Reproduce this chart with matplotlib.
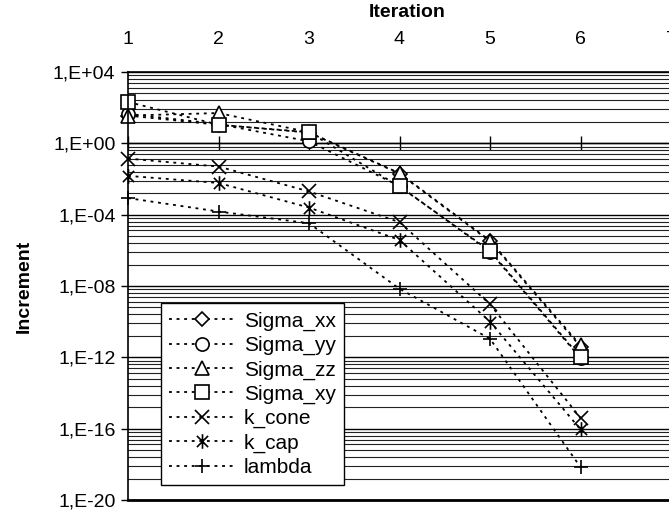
import numpy as np
import matplotlib
matplotlib.use("Agg")
import matplotlib.pyplot as plt
from matplotlib.path import Path
from matplotlib.ticker import FixedLocator, FuncFormatter, NullFormatter

plt.rcParams['font.family'] = ['Liberation Sans', 'DejaVu Sans']

# data (increment per iteration)
iteration = [1, 2, 3, 4, 5, 6]
sigma_xx = [3.6e1, 1.1e1, 4.0e0, 2.0e-2, 3.2e-6, 4.0e-12]
sigma_yy = [4.5e1, 1.2e1, 1.3e0, 4.0e-3, 8.5e-7, 9.0e-13]
sigma_zz = [3.6e1, 5.0e1, 4.2e0, 2.1e-2, 3.5e-6, 4.7e-12]
sigma_xy = [2.1e2, 1.1e1, 4.2e0, 3.8e-3, 9.3e-7, 1.0e-12]
k_cone = [1.4e-1, 5.0e-2, 2.0e-3, 3.8e-5, 9.5e-10, 4.0e-16]
k_cap = [1.5e-2, 6.0e-3, 2.5e-4, 3.8e-6, 1.0e-10, 9.0e-17]
lam = [8.5e-4, 1.5e-4, 3.3e-5, 7.0e-9, 1.1e-11, 7.0e-19]

labels = ['Sigma_xx', 'Sigma_yy', 'Sigma_zz', 'Sigma_xy', 'k_cone', 'k_cap', 'lambda']
series = [sigma_xx, sigma_yy, sigma_zz, sigma_xy, k_cone, k_cap, lam]

# excel style star marker: an x with a vertical bar
star = Path([(-1, -1), (1, 1), (-1, 1), (1, -1), (0, -1.3), (0, 1.3)],
            [Path.MOVETO, Path.LINETO, Path.MOVETO, Path.LINETO, Path.MOVETO, Path.LINETO])
markers = ['D', 'o', '^', 's', 'x', star, '+']
msizes = [7.0, 9.5, 9.5, 9.5, 9.5, 10.5, 10.5]

fig = plt.figure(figsize=(6.69, 5.14), dpi=100)
ax = fig.add_axes([128 / 669, 14 / 514, 543 / 669, 428 / 514])

for vals, lab, mk, ms in zip(series, labels, markers, msizes):
    filled = mk in ('D', 'o', '^', 's')
    ax.plot(iteration, vals, color='black', lw=1.3, ls=(0, (1.6, 2.6)),
            marker=mk, ms=ms, mew=1.2, mec='black',
            mfc='white' if filled else 'none', label=lab, clip_on=False)

ax.set_yscale('log')
ax.set_ylim(1e-20, 1e4)
ax.set_xlim(1, 7)

# major every 4 decades, minor lines like excel (k^4 inside each 4 decade step)
majors = [10.0 ** e for e in range(-20, 5, 4)]
minors = [10.0 ** e * k ** 4 for e in range(-20, 4, 4) for k in range(2, 10)]
ax.yaxis.set_major_locator(FixedLocator(majors))
ax.yaxis.set_minor_locator(FixedLocator(minors))
ax.yaxis.set_major_formatter(FuncFormatter(lambda v, p: '1,E%+03d' % int(round(np.log10(v)))))
ax.yaxis.set_minor_formatter(NullFormatter())
ax.tick_params(axis='y', which='major', direction='out', length=5, width=1,
               labelsize=14, pad=4)
ax.tick_params(axis='y', which='minor', length=0)
ax.grid(True, axis='y', which='major', color='black', lw=1.0)
ax.grid(True, axis='y', which='minor', color='#222222', lw=0.8)
ax.set_axisbelow(True)

# category labels on top, the axis line itself crosses at 1E+00
ax.set_xticks(range(1, 8))
ax.xaxis.tick_top()
ax.tick_params(axis='x', which='both', length=0, labelsize=14, pad=17)
sec = ax.secondary_xaxis(20 / 24)
sec.set_xticks(range(1, 8))
sec.tick_params(direction='inout', length=10, width=1, labelbottom=False, labeltop=False)
sec.spines['bottom'].set_linewidth(1.0)
sec.spines['top'].set_linewidth(1.0)

ax.spines['right'].set_visible(False)
ax.spines['left'].set_linewidth(1.2)
ax.spines['top'].set_linewidth(1.2)
ax.spines['bottom'].set_linewidth(2.0)

ax.set_xlabel('Iteration', fontsize=14, fontweight='bold')
ax.xaxis.set_label_position('top')
ax.xaxis.set_label_coords((407 - 128) / 543, 1 + 60 / 428)
ax.xaxis.label.set_va('center')
ax.set_ylabel('Increment', fontsize=14, fontweight='bold')
ax.yaxis.set_label_coords((24 - 128) / 543, 0.5)
ax.yaxis.label.set_va('center')

leg = ax.legend(loc='lower left', bbox_to_anchor=((161 - 128) / 543, 15 / 428),
                fontsize=15, frameon=True, fancybox=False, framealpha=1,
                edgecolor='black', handlelength=3.2, handletextpad=0.4,
                labelspacing=0.25, borderpad=0.38, borderaxespad=0)
leg.get_frame().set_linewidth(1.0)

fig.savefig('out.png', dpi=100)
